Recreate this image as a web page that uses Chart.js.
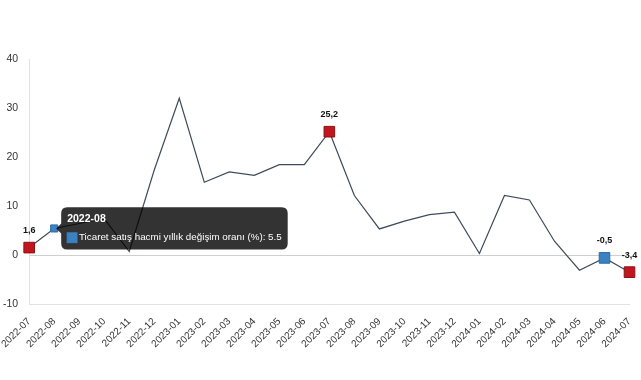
<!DOCTYPE html>
<html>
<head>
<meta charset="utf-8">
<script src="https://cdn.jsdelivr.net/npm/chart.js@4"></script>
<style>
  html, body { margin: 0; padding: 0; background: #fff; }
  #wrap { width: 641px; height: 380px; }
</style>
</head>
<body>
<div id="wrap"><canvas id="c" width="641" height="380"></canvas></div>
<script>
const categories = ["2022-07","2022-08","2022-09","2022-10","2022-11","2022-12","2023-01","2023-02","2023-03","2023-04","2023-05","2023-06","2023-07","2023-08","2023-09","2023-10","2023-11","2023-12","2024-01","2024-02","2024-03","2024-04","2024-05","2024-06","2024-07"];
const values = [1.6, 5.5, 6.5, 7.5, 0.8, 17.4, 32.0, 14.9, 17.0, 16.3, 18.5, 18.5, 25.2, 12.2, 5.4, 7.0, 8.3, 8.8, 0.4, 12.2, 11.3, 2.9, -3.0, -0.5, -3.4];
const yTicks = [-10, 0, 10, 20, 30, 40];
const seriesName = "Ticaret satış hacmi yıllık değişim oranı (%)";
const redIdx = [0, 12, 24];
const blueIdx = [23];
const labelIdx = [0, 12, 23, 24];
const hoverIdx = 1;

const RED = '#c0161e', RED_B = '#8e0f14';
const BLUE = '#3b82c2', BLUE_B = '#2c6aa6';
const FONT = '"Liberation Sans", Arial, sans-serif';

const ptRadius = categories.map((_, i) => (redIdx.includes(i) || blueIdx.includes(i)) ? 7.5 : 0);
const ptBg = categories.map((_, i) => redIdx.includes(i) ? RED : BLUE);
const ptBorder = categories.map((_, i) => redIdx.includes(i) ? RED_B : BLUE_B);

const labelsPlugin = {
  id: 'valueLabels',
  afterDatasetsDraw(chart) {
    const ctx = chart.ctx;
    const meta = chart.getDatasetMeta(0);
    ctx.save();
    ctx.font = 'bold 9px ' + FONT;
    ctx.fillStyle = '#111';
    ctx.textAlign = 'center';
    ctx.textBaseline = 'middle';
    labelIdx.forEach(i => {
      const p = meta.data[i];
      const txt = String(values[i]).replace('.', ',');
      ctx.fillText(txt, p.x, p.y - 17);
    });
    ctx.restore();
  }
};

const chart = new Chart(document.getElementById('c'), {
  type: 'line',
  data: {
    labels: categories,
    datasets: [{
      label: seriesName,
      data: values,
      borderColor: '#3e4b58',
      borderWidth: 1.2,
      tension: 0,
      fill: false,
      pointStyle: 'rect',
      pointRadius: ptRadius,
      pointBackgroundColor: ptBg,
      pointBorderColor: ptBorder,
      pointBorderWidth: 1,
      pointHoverRadius: categories.map((_, i) => i === hoverIdx ? 5 : ptRadius[i]),
      pointHoverBackgroundColor: categories.map((_, i) => i === hoverIdx ? BLUE : ptBg[i]),
      pointHoverBorderColor: categories.map((_, i) => i === hoverIdx ? BLUE_B : ptBorder[i]),
      pointHoverBorderWidth: 1
    }]
  },
  options: {
    responsive: false,
    animation: false,
    layout: { padding: { top: 59, right: 5, bottom: 27, left: 0 } },
    plugins: {
      legend: { display: false },
      tooltip: {
        enabled: true,
        backgroundColor: 'rgba(0,0,0,0.8)',
        multiKeyBackground: BLUE,
        titleFont: { family: FONT, size: 10.5, weight: 'bold' },
        bodyFont: { family: FONT, size: 9.8 },
        callbacks: {
          labelColor: () => ({ borderColor: BLUE, backgroundColor: BLUE, borderWidth: 1 })
        }
      }
    },
    scales: {
      x: {
        grid: { display: true, color: 'transparent', tickColor: 'transparent' },
        border: { display: true, color: '#e2e2e2' },
        ticks: {
          autoSkip: false, maxRotation: 45, minRotation: 45,
          color: '#333',
          font: { family: FONT, size: 10 }
        }
      },
      y: {
        min: -10, max: 40,
        afterBuildTicks: (s) => { s.ticks = yTicks.map(v => ({ value: v })); },
        grid: {
          color: (c) => (c.tick && c.tick.value === 0) ? '#cfcfcf' : 'transparent',
          tickColor: 'transparent'
        },
        border: { display: true, color: '#e2e2e2' },
        ticks: {
          color: '#333',
          font: { family: FONT, size: 10.5 }
        }
      }
    }
  },
  plugins: [labelsPlugin]
});

const meta = chart.getDatasetMeta(0);
const hp = meta.data[hoverIdx];
chart.setActiveElements([{ datasetIndex: 0, index: hoverIdx }]);
chart.tooltip.setActiveElements([{ datasetIndex: 0, index: hoverIdx }], { x: hp.x, y: hp.y });
chart.update();
</script>
</body>
</html>
